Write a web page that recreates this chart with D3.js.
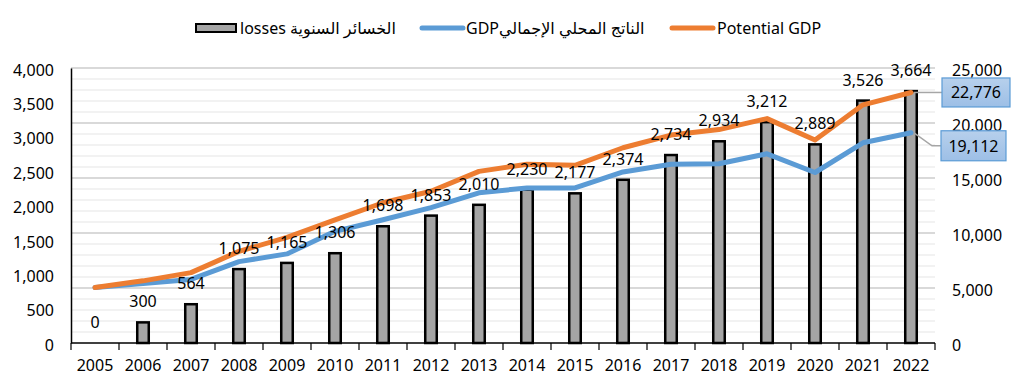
<!DOCTYPE html>
<html>
<head>
<meta charset="utf-8">
<script src="https://cdn.jsdelivr.net/npm/d3@7"></script>
<style>
  body { margin: 0; background: #fff; }
  svg { display: block; font-family: "Noto Sans", "DejaVu Sans", sans-serif; }
</style>
</head>
<body>
<svg id="chart"></svg>
<script>
// categories and series
const years = ['2005', '2006', '2007', '2008', '2009', '2010', '2011', '2012', '2013',
  '2014', '2015', '2016', '2017', '2018', '2019', '2020', '2021', '2022'];
const losses = [0, 300, 564, 1075, 1165, 1306, 1698, 1853, 2010, 2230, 2177, 2374,
  2734, 2934, 3212, 2889, 3526, 3664];
const gdp = [5050, 5400, 5780, 7400, 8100, 10150, 11200, 12300, 13650, 14100, 14100,
  15550, 16250, 16300, 17200, 15500, 18200, 19112];
const potentialGdp = [5050, 5650, 6400, 8330, 9600, 11200, 12750, 13800, 15600, 16250,
  16150, 17750, 18900, 19400, 20400, 18450, 21650, 22776];
const leftTicks = [0, 500, 1000, 1500, 2000, 2500, 3000, 3500, 4000];
const rightTicks = [0, 5000, 10000, 15000, 20000, 25000];

const legendLabels = ['losses الخسائر السنوية', 'GDPالناتج المحلي الإجمالي', 'Potential GDP'];

const width = 1015;
const height = 392;
const margin = { top: 68, right: 80, bottom: 49, left: 71 };
const fontFamily = '"Noto Sans", "DejaVu Sans", sans-serif';

const svg = d3.select('#chart')
  .attr('width', width)
  .attr('height', height)
  .attr('viewBox', `0 0 ${width} ${height}`);

const fmt = d3.format(',');

const x = d3.scaleBand()
  .domain(years)
  .range([margin.left, width - margin.right])
  .paddingInner(0.76)
  .paddingOuter(0.38);
const center = d => x(d) + x.bandwidth() / 2;

const yL = d3.scaleLinear().domain([0, 4000]).range([height - margin.bottom, margin.top]);
const yR = d3.scaleLinear().domain([0, 25000]).range([height - margin.bottom, margin.top]);

const g = svg.append('g');

// Gridlines: light every 1,000, darker every 5,000 (secondary axis)
g.append('g')
  .selectAll('line')
  .data(d3.range(1000, 25001, 1000))
  .join('line')
  .attr('x1', margin.left)
  .attr('x2', width - margin.right)
  .attr('y1', d => yR(d))
  .attr('y2', d => yR(d))
  .attr('stroke', d => d % 5000 === 0 ? '#d9d9d9' : '#f2f2f2')
  .attr('stroke-width', 2);

// Bars
g.selectAll('.bar')
  .data(years.map((year, i) => ({ year, value: losses[i] })))
  .join('rect')
  .attr('class', 'bar')
  .attr('x', d => x(d.year))
  .attr('y', d => yL(d.value))
  .attr('width', x.bandwidth())
  .attr('height', d => Math.max(0, yL(0) - yL(d.value)))
  .attr('fill', '#a5a5a5')
  .attr('stroke', '#000')
  .attr('stroke-width', d => d.value > 0 ? 2.5 : 0);

// Lines
const line = d3.line()
  .x((d, i) => center(years[i]))
  .y(d => yR(d));

g.append('path')
  .datum(gdp)
  .attr('d', line)
  .attr('fill', 'none')
  .attr('stroke', '#5b9bd5')
  .attr('stroke-width', 5)
  .attr('stroke-linejoin', 'round')
  .attr('stroke-linecap', 'round');

g.append('path')
  .datum(potentialGdp)
  .attr('d', line)
  .attr('fill', 'none')
  .attr('stroke', '#ed7d31')
  .attr('stroke-width', 5)
  .attr('stroke-linejoin', 'round')
  .attr('stroke-linecap', 'round');

// Bottom axis: labels at centres, ticks between categories
const xAxis = g.append('g')
  .attr('transform', `translate(0,${height - margin.bottom})`)
  .call(d3.axisBottom(x).tickSize(0).tickPadding(17));
xAxis.select('.domain').remove();
xAxis.selectAll('text')
  .attr('font-size', '16px')
  .attr('font-family', fontFamily)
  .attr('fill', '#000');

const tickX = d3.scaleLinear().domain([0, years.length]).range([margin.left, width - margin.right]);
g.append('g')
  .selectAll('line')
  .data(d3.range(years.length + 1))
  .join('line')
  .attr('x1', d => tickX(d))
  .attr('x2', d => tickX(d))
  .attr('y1', yL(0))
  .attr('y2', yL(0) + 7)
  .attr('stroke', '#000')
  .attr('stroke-width', 1.2);
g.append('line')
  .attr('x1', margin.left)
  .attr('x2', width - margin.right)
  .attr('y1', yL(0))
  .attr('y2', yL(0))
  .attr('stroke', '#000')
  .attr('stroke-width', 1.5);

// Left axis
const leftAxis = g.append('g')
  .attr('transform', `translate(${margin.left},0)`)
  .call(d3.axisLeft(yL).tickValues(leftTicks).tickFormat(fmt).tickSize(0).tickPadding(17));
leftAxis.select('.domain').attr('stroke', '#000').attr('stroke-width', 1.5);
leftAxis.selectAll('text')
  .attr('font-size', '16px')
  .attr('font-family', fontFamily)
  .attr('fill', '#000')
  .attr('dy', '0.45em');

// Right axis
const rightAxis = g.append('g')
  .attr('transform', `translate(${width - margin.right},0)`)
  .call(d3.axisRight(yR).tickValues(rightTicks).tickFormat(fmt).tickSize(0).tickPadding(17));
rightAxis.select('.domain').remove();
rightAxis.selectAll('text')
  .attr('font-size', '16px')
  .attr('font-family', fontFamily)
  .attr('fill', '#000')
  .attr('dy', '0.45em');

// Bar value labels
g.selectAll('.bar-label')
  .data(years.map((year, i) => ({ year, value: losses[i] })))
  .join('text')
  .attr('class', 'bar-label')
  .attr('x', d => center(d.year))
  .attr('y', d => yL(d.value) - 15)
  .attr('text-anchor', 'middle')
  .attr('font-size', '16px')
  .attr('fill', '#000')
  .text(d => fmt(d.value));

// Callouts for the last points of the two lines
const last = years.length - 1;
const defs = svg.append('defs');
const grad = defs.append('linearGradient')
  .attr('id', 'callout-fill')
  .attr('x1', 0).attr('y1', 0).attr('x2', 0).attr('y2', 1);
grad.append('stop').attr('offset', '0%').attr('stop-color', '#b7d0ec');
grad.append('stop').attr('offset', '100%').attr('stop-color', '#9dbfe6');

const callouts = [
  { value: potentialGdp[last], dx: 31, dy: 0, bx: 942, bw: 68, bh: 29 },
  { value: gdp[last], dx: 21, dy: 13, bx: 941, bw: 65, bh: 30 }
];
const px = center(years[last]);
callouts.forEach(c => {
  const py = yR(c.value);
  const ly = py + c.dy;
  g.append('path')
    .attr('d', `M${px + 3},${py} L${px + c.dx},${ly} L${c.bx},${ly}`)
    .attr('fill', 'none')
    .attr('stroke', '#a6a6a6')
    .attr('stroke-width', 1.5);
  g.append('rect')
    .attr('x', c.bx)
    .attr('y', ly - c.bh / 2)
    .attr('width', c.bw)
    .attr('height', c.bh)
    .attr('fill', 'url(#callout-fill)')
    .attr('stroke', '#5b9bd5')
    .attr('stroke-width', 1.2);
  g.append('text')
    .attr('x', c.bx + c.bw / 2)
    .attr('y', ly)
    .attr('dy', '0.36em')
    .attr('text-anchor', 'middle')
    .attr('font-size', '16px')
    .attr('fill', '#000')
    .text(fmt(c.value));
});

// Legend
const legend = svg.append('g').attr('transform', 'translate(0,28)');
legend.append('rect')
  .attr('x', 196).attr('y', -4).attr('width', 40).attr('height', 8)
  .attr('fill', '#a5a5a5').attr('stroke', '#000').attr('stroke-width', 2);
legend.append('line')
  .attr('x1', 422).attr('x2', 463).attr('y1', 0).attr('y2', 0)
  .attr('stroke', '#5b9bd5').attr('stroke-width', 5).attr('stroke-linecap', 'round');
legend.append('line')
  .attr('x1', 672).attr('x2', 713).attr('y1', 0).attr('y2', 0)
  .attr('stroke', '#ed7d31').attr('stroke-width', 5).attr('stroke-linecap', 'round');
legend.selectAll('text')
  .data(legendLabels)
  .join('text')
  .attr('x', (d, i) => [240, 466, 717][i])
  .attr('y', 0)
  .attr('dy', '0.36em')
  .attr('font-size', '16px')
  .attr('fill', '#000')
  .text(d => d);
</script>
</body>
</html>
